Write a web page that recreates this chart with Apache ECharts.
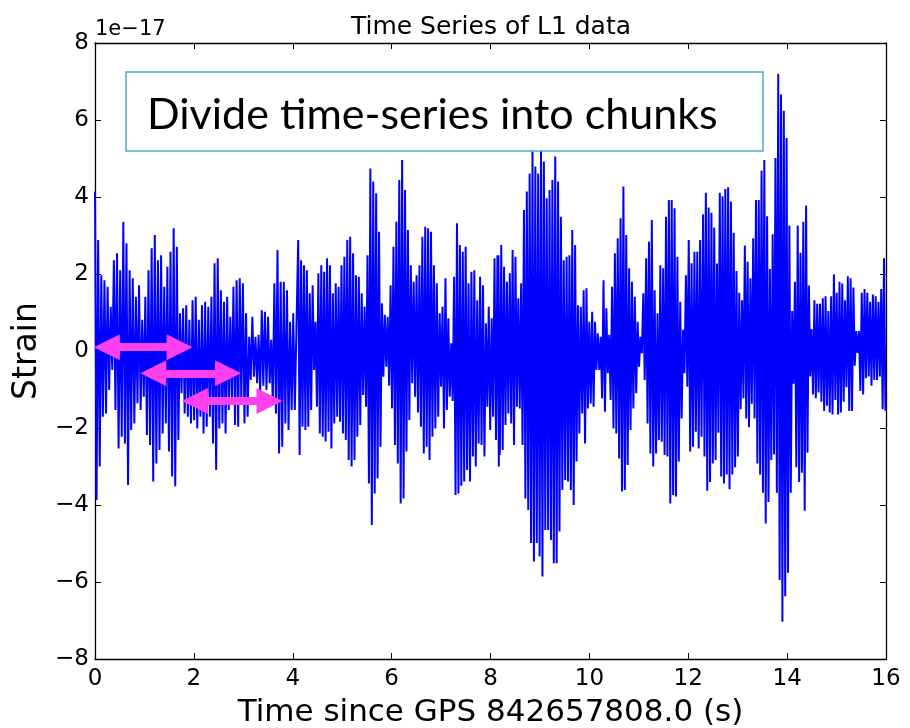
<!DOCTYPE html>
<html>
<head>
<meta charset="utf-8">
<script src="https://cdn.jsdelivr.net/npm/echarts@6/dist/echarts.min.js"></script>
<style>
  html, body { margin: 0; padding: 0; background: #fff; }
  #chart-container { width: 910px; height: 728px; }
</style>
</head>
<body>
<div id="chart-container"></div>
<script>
// strain in units of 1e-17, read as successive upper spikes and lower spikes
var upper1 = [4.14,2.88,1.97,1.84,1.67,1.15,2.36,2.54,2.10,3.36,2.80,2.10,1.89,1.41,1.71,0.81,1.41,2.10,2.67,3.01,2.36,2.49,1.67,2.19,2.58,3.19,2.71,0.98,1.11,1.19,0.81,1.32,1.41,0.81,1.19,1.28,1.15,1.41,2.28,2.41,1.58,1.28,1.41,0.89,1.67,1.84,1.89,1.76,0.98,0.37,0.89,0.37,0.42,1.06,1.02,0.89,0.29,1.76,2.62,1.80,1.80,1.58,0.76,0.98];
var lower1 = [-3.87,-3.00,-1.71,-1.62,-1.01,-0.49,-1.53,-2.53,-2.23,-2.40,-3.48,-2.05,-1.88,-1.36,-1.53,-1.19,-2.18,-2.44,-3.39,-2.92,-2.57,-2.14,-1.88,-2.61,-3.26,-3.51,-2.31,-1.10,-1.62,-1.71,-1.88,-1.80,-2.01,-1.71,-2.14,-1.97,-1.71,-2.40,-3.09,-2.01,-1.88,-2.14,-1.53,-1.36,-1.92,-1.97,-1.30,-1.88,-1.71,-0.75,-0.67,-0.84,-1.10,-0.90,-1.01,-0.84,-1.36,-1.62,-2.66,-2.49,-1.88,-2.05,-1.53,-1.53];
var upper2 = [2.88,2.36,2.23,2.10,1.50,1.71,0.76,2.02,2.23,2.06,2.41,2.23,1.50,1.76,1.67,2.23,2.45,2.88,2.97,2.54,1.97,1.93,1.50,1.15,2.49,4.74,4.40,4.10,3.10,1.24,0.94,0.89,1.71,2.71,3.36,4.44,4.96,4.18,3.14,2.23,1.80,1.97,2.23,2.97,3.23,3.19,3.10,2.23,1.76,0.98,1.15,1.89,0.85,0.20,1.93,3.32,2.75,2.58,2.71,1.76,2.06,2.10,1.32,1.93,1.71,0.72,1.15,0.85,2.41,2.49];
var lower2 = [-2.70,-1.97,-2.05,-1.97,-1.53,-0.49,-1.45,-2.14,-2.23,-2.35,-2.10,-2.53,-1.88,-1.71,-1.84,-2.14,-2.31,-2.83,-3.00,-2.83,-2.23,-1.92,-1.14,-1.45,-3.44,-4.52,-3.70,-3.31,-2.49,-0.67,-0.41,-0.90,-1.49,-2.44,-2.92,-3.96,-3.83,-2.61,-1.79,-0.84,-1.19,-1.60,-1.97,-2.66,-2.49,-2.83,-2.23,-2.01,-1.71,-0.93,-2.01,-1.53,-1.19,-1.30,-3.74,-3.70,-3.50,-3.39,-3.09,-3.39,-2.74,-3.00,-2.40,-2.44,-2.74,-1.45,-2.05,-1.71,-2.31,-3.00];
var upper3 = [2.49,2.75,2.19,1.80,2.02,2.62,2.45,1.37,1.76,3.66,4.14,4.61,5.18,4.79,4.61,5.22,4.92,3.97,4.18,4.44,5.05,4.40,3.49,2.36,2.45,2.49,3.14,2.75,1.19,1.15,1.58,1.63,0.76,1.02,0.76,0.46,0.37,1.84,1.11,0.42,1.67,2.54,2.93,3.45,4.27,3.01,2.15,1.80,1.41,0.76,0.37,1.50,2.41,2.84,3.40,1.58,0.98,2.23,2.15,3.49,3.92,3.92,3.71,2.45,1.28,0.55,1.97,2.88,2.28,2.58,2.58,2.88];
var lower3 = [-2.70,-2.57,-1.92,-1.62,-1.88,-2.44,-1.45,-1.49,-2.44,-3.83,-4.13,-4.99,-5.47,-4.99,-5.34,-5.86,-4.65,-4.65,-4.91,-5.51,-5.51,-4.69,-3.61,-3.35,-3.39,-3.61,-4.00,-2.87,-2.14,-1.62,-2.40,-1.49,-1.36,-1.45,-0.49,-0.49,-1.23,-1.58,-0.58,-1.27,-2.01,-2.14,-2.79,-3.65,-3.61,-2.96,-2.05,-1.49,-1.10,-0.41,-0.06,-0.75,-1.88,-2.66,-3.00,-2.66,-2.31,-2.36,-2.70,-2.74,-3.96,-3.74,-3.78,-2.87,-1.75,-0.58,-0.93,-2.61,-2.49,-2.10,-2.53,-2.23];
var upper4 = [3.55,4.11,3.73,3.59,3.21,2.27,4.11,4.02,4.21,4.25,3.88,3.07,2.08,1.51,1.32,2.74,2.32,1.89,2.93,3.92,3.92,4.68,4.96,3.50,2.13,3.03,5.01,7.20,6.66,6.24,5.53,3.26,1.04,1.80,3.26,2.55,3.36,3.78,1.70,0.57,1.32,1.23,1.23,1.37,1.42,1.04,1.42,1.99,1.51,1.80,1.75,1.32,1.94,1.89,1.65,0.52,0.52,1.51,1.61,1.51,1.28,1.47,1.42,1.28,1.61,2.41];
var lower4 = [-2.74,-3.63,-3.40,-2.92,-2.83,-2.12,-3.26,-3.44,-3.21,-3.59,-3.21,-3.02,-2.74,-1.51,-1.23,-1.75,-1.98,-1.37,-1.75,-2.92,-3.21,-3.68,-4.48,-3.92,-2.83,-2.69,-3.68,-5.95,-7.03,-6.37,-5.76,-3.68,-0.85,-3.02,-3.40,-3.16,-4.15,-2.64,-0.66,-1.13,-1.23,-1.08,-1.32,-1.56,-1.42,-1.60,-1.65,-1.27,-1.65,-1.60,-1.32,-0.94,-1.56,-1.56,-0.38,-0.05,-1.04,-1.13,-0.71,-0.66,-0.90,-0.75,-0.75,-0.66,-1.51,-1.55];
// time span (s) covered by each chunk of readings
var chunkStart = [0, 4.11, 8.16, 12.30];
var chunkEnd = [4.01, 8.14, 12.24, 15.96];

var xTicks = [0, 16, 2];
var yTicks = [-8, 8, 2];

// pink "chunk" arrows: [tStart, tEnd, strain]
var arrows = [
  [0.24, 1.71, 0.10],
  [1.18, 2.69, -0.58],
  [2.02, 3.53, -1.30]
];

var uppers = [upper1, upper2, upper3, upper4];
var lowers = [lower1, lower2, lower3, lower4];
var data = [];
for (var c = 0; c < 4; c++) {
  var up = uppers[c], lo = lowers[c];
  var step = (chunkEnd[c] - chunkStart[c]) / (up.length - 1);
  for (var i = 0; i < up.length; i++) {
    var t = chunkStart[c] + i * step;
    data.push([t, up[i]]);
    data.push([t + step / 2, lo[i]]);
  }
}

var dom = document.getElementById("chart-container");
var myChart = echarts.init(dom, null, { renderer: "canvas" });

var font = "DejaVu Sans";
function minus(v) {
  return v < 0 ? "\u2212" + Math.abs(v) : String(v);
}
var axisBase = {
  type: "value",
  axisLine: { show: true, onZero: false, lineStyle: { color: "#000", width: 1.3 } },
  axisTick: { show: true, inside: true, length: 6, lineStyle: { color: "#000", width: 1 } },
  splitLine: { show: false }
};

var option = {
  animation: false,
  grid: { left: 95, right: 24, top: 43, bottom: 69, containLabel: false, outerBoundsMode: "none" },
  xAxis: [
    Object.assign({}, axisBase, {
      min: xTicks[0], max: xTicks[1], interval: xTicks[2],
      position: "bottom",
      axisLabel: { color: "#000", fontFamily: font, fontSize: 23, margin: 9, formatter: minus },
      name: "Time since GPS 842657808.0 (s)",
      nameLocation: "middle",
      nameGap: 38,
      nameTextStyle: { color: "#000", fontFamily: font, fontSize: 31 }
    }),
    Object.assign({}, axisBase, {
      min: xTicks[0], max: xTicks[1], interval: xTicks[2],
      position: "top",
      axisLabel: { show: false }
    })
  ],
  yAxis: [
    Object.assign({}, axisBase, {
      min: yTicks[0], max: yTicks[1], interval: yTicks[2],
      position: "left",
      axisLabel: { color: "#000", fontFamily: font, fontSize: 23, margin: 6, formatter: minus },
      name: "Strain",
      nameLocation: "middle",
      nameGap: 49,
      nameRotate: 90,
      nameTextStyle: { color: "#000", fontFamily: font, fontSize: 33 }
    }),
    Object.assign({}, axisBase, {
      min: yTicks[0], max: yTicks[1], interval: yTicks[2],
      position: "right",
      axisLabel: { show: false }
    })
  ],
  graphic: [
    {
      type: "text", x: 491, y: 27, z: 10,
      style: { text: "Time Series of L1 data", fill: "#000", font: "25px 'DejaVu Sans'", align: "center", verticalAlign: "middle" }
    },
    {
      type: "text", x: 95, y: 30, z: 10,
      style: { text: "1e\u221217", fill: "#000", font: "21px 'DejaVu Sans'", align: "left", verticalAlign: "middle" }
    },
    {
      type: "rect", z: 10,
      shape: { x: 126, y: 72, width: 637, height: 79 },
      style: { fill: "#fff", stroke: "#4bacc6", lineWidth: 1.5 }
    },
    {
      type: "text", x: 147, y: 115, z: 11,
      style: { text: "Divide time-series into chunks", fill: "#000", font: "43px Lato", align: "left", verticalAlign: "middle" }
    }
  ],
  series: [
    {
      type: "line",
      data: data,
      showSymbol: false,
      symbol: "none",
      clip: true,
      lineStyle: { color: "#0000ff", width: 2 },
      markLine: {
        silent: true,
        symbol: ["triangle", "triangle"],
        symbolSize: [26, 26],
        label: { show: false },
        lineStyle: { color: "#ff40f0", width: 8, type: "solid" },
        data: arrows.map(function (a) {
          return [{ coord: [a[0], a[2]] }, { coord: [a[1], a[2]] }];
        })
      }
    }
  ]
};

myChart.setOption(option);
window.addEventListener("resize", myChart.resize);
</script>
</body>
</html>
